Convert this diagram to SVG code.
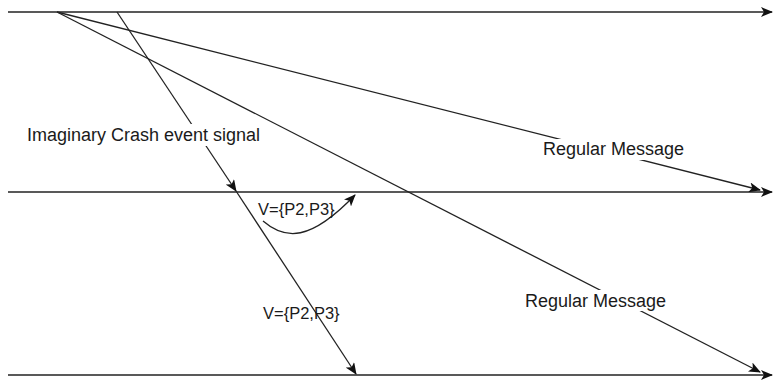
<svg xmlns="http://www.w3.org/2000/svg" width="775" height="382" viewBox="0 0 775 382">
  <style>
    .ln { stroke: #222; stroke-width: 1.3; fill: none; }
    .lbl { font-family: "Liberation Sans", Arial, sans-serif; font-size: 18px; fill: #1a1a1a; }
    .sm { font-size: 16.5px; }
  </style>
  <defs>
    <marker id="arr" viewBox="0 0 12 10" refX="11" refY="5" markerWidth="12" markerHeight="10" markerUnits="userSpaceOnUse" orient="auto">
      <path d="M0,0 L12,5 L0,10 L3,5 Z" fill="#111"/>
    </marker>
  </defs>
  <rect width="775" height="382" fill="#fff"/>

  <!-- process timelines -->
  <g id="timeline-p1"><line class="ln" x1="8" y1="12" x2="772" y2="12" marker-end="url(#arr)"/></g>
  <g id="timeline-p2"><line class="ln" x1="8" y1="192" x2="772" y2="192" marker-end="url(#arr)"/></g>
  <g id="timeline-p3"><line class="ln" x1="8" y1="375" x2="772" y2="375" marker-end="url(#arr)"/></g>

  <!-- messages -->
  <g id="connectors">
    <line class="ln" x1="57" y1="12" x2="760" y2="190" marker-end="url(#arr)"/>
    <line class="ln" x1="57" y1="12" x2="760" y2="372" marker-end="url(#arr)"/>
    <line class="ln" x1="117" y1="12" x2="236" y2="191" marker-end="url(#arr)"/>
    <line class="ln" x1="236" y1="191" x2="356" y2="374" marker-end="url(#arr)"/>
    <path class="ln" d="M263,221 C285,240 310,242 355,195" marker-end="url(#arr)"/>
  </g>

  <!-- labels -->
  <g id="label-crash">
    <rect x="25" y="124" width="240" height="22" fill="#fff"/>
    <text class="lbl" x="27" y="141">Imaginary Crash event signal</text>
  </g>
  <g id="label-v1">
    <text class="lbl sm" x="258" y="215">V={P2,P3}</text>
  </g>
  <g id="label-msg1">
    <rect x="541" y="139" width="146" height="21" fill="#fff"/>
    <text class="lbl" x="543" y="155">Regular Message</text>
  </g>
  <g id="label-msg2">
    <rect x="523" y="290" width="148" height="21" fill="#fff"/>
    <text class="lbl" x="525" y="307">Regular Message</text>
  </g>
  <g id="label-v2">
    <text class="lbl sm" x="263" y="319">V={P2,P3}</text>
  </g>
</svg>
